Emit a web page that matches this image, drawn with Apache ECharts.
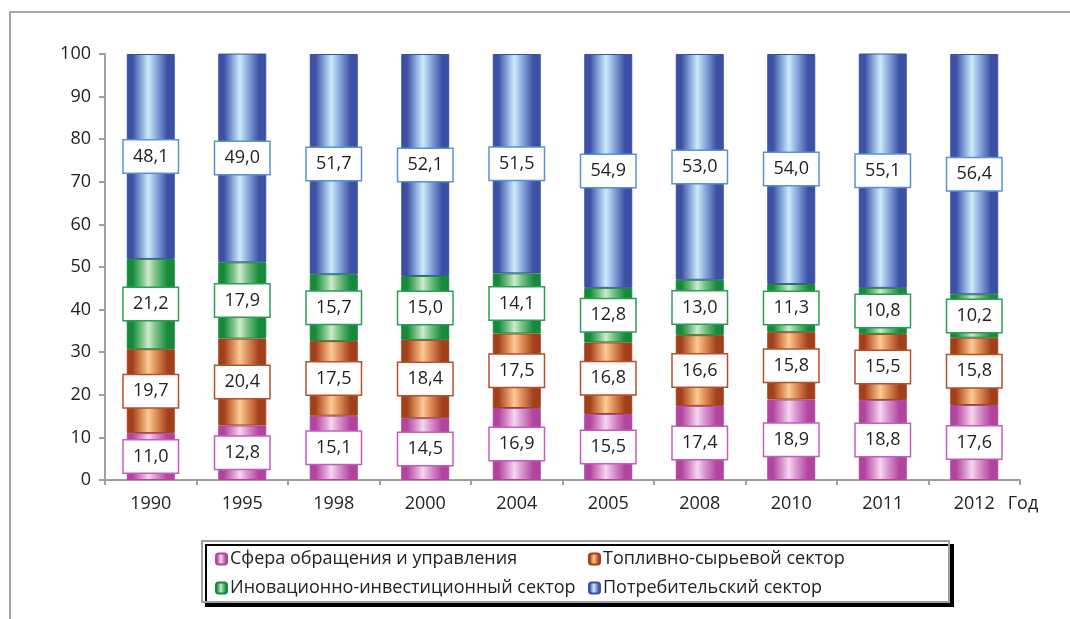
<!DOCTYPE html>
<html>
<head>
<meta charset="utf-8">
<script src="https://cdn.jsdelivr.net/npm/echarts@6/dist/echarts.min.js"></script>
<style>
  html, body { margin: 0; padding: 0; background: #fff; }
  #chart { width: 1070px; height: 619px; }
</style>
</head>
<body>
<div id="chart"></div>
<script>
const years = ["1990", "1995", "1998", "2000", "2004", "2005", "2008", "2010", "2011", "2012"];

const sferaValues = [11.0, 12.8, 15.1, 14.5, 16.9, 15.5, 17.4, 18.9, 18.8, 17.6];
const toplivoValues = [19.7, 20.4, 17.5, 18.4, 17.5, 16.8, 16.6, 15.8, 15.5, 15.8];
const innovValues = [21.2, 17.9, 15.7, 15.0, 14.1, 12.8, 13.0, 11.3, 10.8, 10.2];
const potrebValues = [48.1, 49.0, 51.7, 52.1, 51.5, 54.9, 53.0, 54.0, 55.1, 56.4];

const seriesNames = [
	"Сфера обращения и управления",
	"Топливно-сырьевой сектор",
	"Иновационно-инвестиционный сектор",
	"Потребительский сектор",
];

const FONT = "Open Sans";

// горизонтальный градиент "цилиндр": тёмные края, светлая середина
function cylinder(edge, mid, light) {
	return new echarts.graphic.LinearGradient(0, 0, 1, 0, [
		{ offset: 0, color: edge },
		{ offset: 0.12, color: edge },
		{ offset: 0.32, color: mid },
		{ offset: 0.45, color: light },
		{ offset: 0.6, color: mid },
		{ offset: 0.85, color: edge },
		{ offset: 1, color: edge },
	]);
}

function makeSeries(name, values, edge, mid, light, labelBorder) {
	return {
		name: name,
		type: "bar",
		stack: "total",
		barWidth: 48,
		data: values,
		itemStyle: {
			color: cylinder(edge, mid, light),
			borderColor: edge,
			borderWidth: 1,
		},
		label: {
			show: true,
			position: "inside",
			formatter: (p) => p.value.toFixed(1).replace(".", ","),
			fontFamily: FONT,
			fontSize: 18,
			color: "#222",
			backgroundColor: "#fff",
			borderColor: labelBorder,
			borderWidth: 1.5,
			width: 42,
			align: "center",
			lineHeight: 22,
			padding: [5, 6],
		},
	};
}

const chart = echarts.init(document.getElementById("chart"));

const option = {
	animation: false,
	grid: {
		left: 105,
		right: 50,
		top: 54,
		bottom: 139,
	},
	graphic: [
		{
			type: "rect",
			shape: { x: 10, y: 12, width: 1100, height: 700 },
			style: { fill: "none", stroke: "#a6a6a6", lineWidth: 2 },
			silent: true,
		},
		{
			type: "rect",
			shape: { x: 202, y: 541, width: 747, height: 61 },
			style: {
				fill: "#fff",
				stroke: "#a0a0a0",
				lineWidth: 2,
				shadowColor: "#000",
				shadowOffsetX: 4,
				shadowOffsetY: 4,
				shadowBlur: 0,
			},
			silent: true,
		},
	],
	legend: [
		{
			orient: "vertical",
			left: 210,
			top: 545,
			itemGap: 11,
			itemWidth: 11,
			itemHeight: 11,
			data: [seriesNames[0], seriesNames[2]],
			textStyle: { fontFamily: FONT, fontSize: 18, color: "#222", padding: [0, 0, 0, -2] },
		},
		{
			orient: "vertical",
			left: 583,
			top: 545,
			itemGap: 11,
			itemWidth: 11,
			itemHeight: 11,
			data: [seriesNames[1], seriesNames[3]],
			textStyle: { fontFamily: FONT, fontSize: 18, color: "#222", padding: [0, 0, 0, -2] },
		},
	],
	xAxis: {
		type: "category",
		data: years,
		name: "Год",
		nameLocation: "end",
		nameGap: 3,
		nameTextStyle: {
			fontFamily: FONT,
			fontSize: 18,
			color: "#222",
			align: "center",
			verticalAlign: "top",
			padding: [15, 0, 0, 0],
		},
		axisLine: { lineStyle: { color: "#a0a0a0", width: 2 } },
		axisTick: { show: true, length: 5, lineStyle: { color: "#a0a0a0", width: 2 } },
		axisLabel: { fontFamily: FONT, fontSize: 18, color: "#222", margin: 15 },
	},
	yAxis: {
		type: "value",
		min: 0,
		max: 100,
		interval: 10,
		splitLine: { show: false },
		axisLine: { show: true, lineStyle: { color: "#a0a0a0", width: 2 } },
		axisTick: { show: true, length: 6, lineStyle: { color: "#a0a0a0", width: 2 } },
		axisLabel: { fontFamily: FONT, fontSize: 18, color: "#222", margin: 14 },
	},
	series: [
		makeSeries(seriesNames[0], sferaValues, "#b0449e", "#dc98cf", "#f4d8ee", "#c45cbc"),
		makeSeries(seriesNames[1], toplivoValues, "#a3401c", "#e0925c", "#fbcb96", "#b4502e"),
		makeSeries(seriesNames[2], innovValues, "#168a3a", "#7cc488", "#d0ead0", "#2c9c5a"),
		makeSeries(seriesNames[3], potrebValues, "#3c50a4", "#8fb0e0", "#cdeaf9", "#5a90d4"),
	],
};

chart.setOption(option);
</script>
</body>
</html>
